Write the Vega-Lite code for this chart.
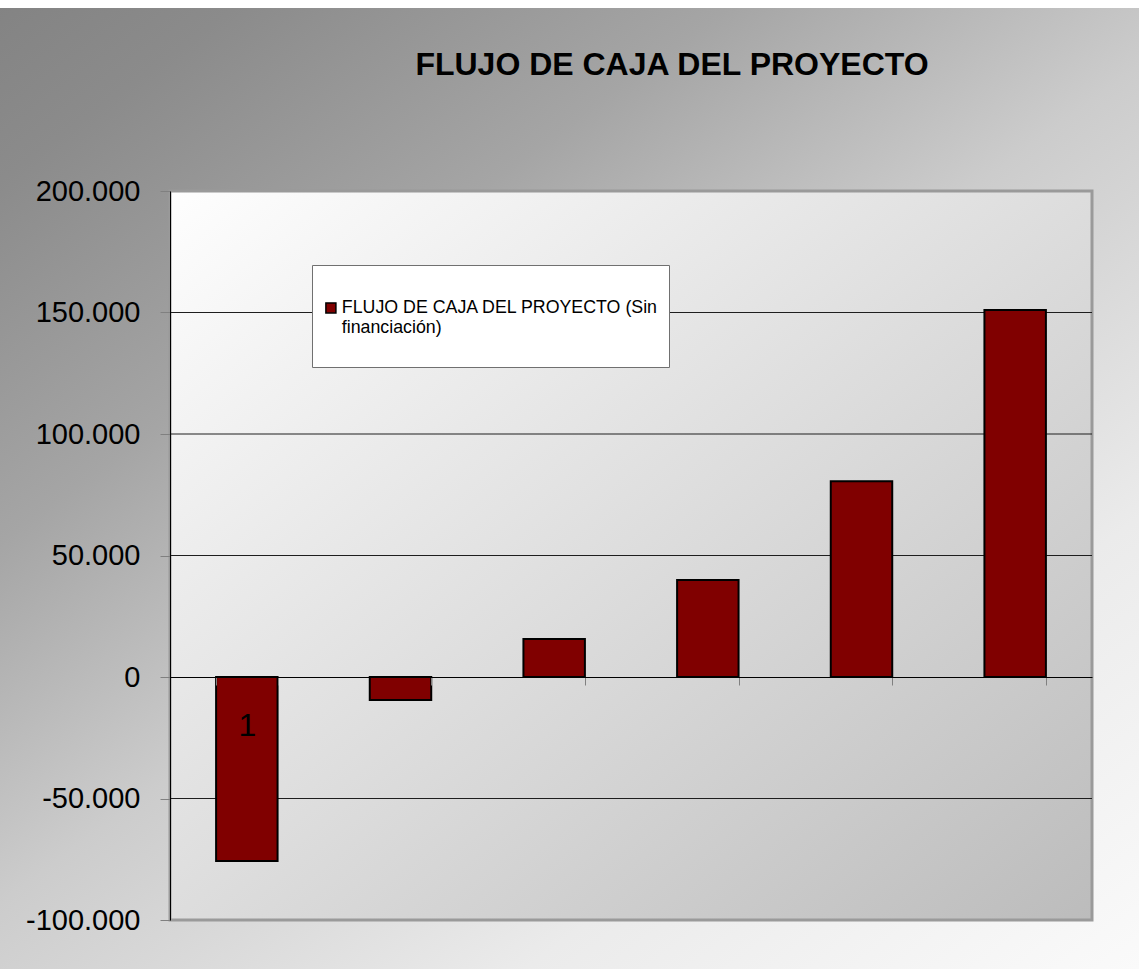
{
  "$schema": "https://vega.github.io/schema/vega-lite/v6.json",
  "width": 922,
  "height": 729,
  "autosize": {"type": "none"},
  "padding": {"left": 170, "top": 191, "right": 47, "bottom": 49},
  "background": "white",
  "title": {
    "text": "FLUJO DE CAJA DEL PROYECTO",
    "font": "Liberation Sans",
    "fontSize": 32,
    "fontWeight": "bold",
    "color": "black",
    "anchor": "middle",
    "frame": "group",
    "dx": 41,
    "baseline": "alphabetic",
    "offset": 70
  },
  "datasets": {
    "fondo": [{"ymin": -100000, "ymax": 200000}],
    "rejilla": [{"v": -50000}, {"v": 50000}, {"v": 100000}, {"v": 150000}],
    "flujo": [
      {"periodo": 1, "valor": -75700, "serie": "FLUJO DE CAJA DEL PROYECTO (Sin financiación)"},
      {"periodo": 2, "valor": -9500, "serie": "FLUJO DE CAJA DEL PROYECTO (Sin financiación)"},
      {"periodo": 3, "valor": 15600, "serie": "FLUJO DE CAJA DEL PROYECTO (Sin financiación)"},
      {"periodo": 4, "valor": 39900, "serie": "FLUJO DE CAJA DEL PROYECTO (Sin financiación)"},
      {"periodo": 5, "valor": 80600, "serie": "FLUJO DE CAJA DEL PROYECTO (Sin financiación)"},
      {"periodo": 6, "valor": 151000, "serie": "FLUJO DE CAJA DEL PROYECTO (Sin financiación)"}
    ]
  },
  "layer": [
    {
      "data": {"name": "fondo"},
      "mark": {
        "type": "rect",
        "fill": {
          "gradient": "linear", "x1": 0, "y1": 0, "x2": 1, "y2": 1,
          "stops": [
            {"offset": 0, "color": "#fefefe"},
            {"offset": 0.5, "color": "#dddddd"},
            {"offset": 1, "color": "#bcbcbc"}
          ]
        },
        "stroke": "#9a9a9a",
        "strokeWidth": 3
      },
      "encoding": {
        "y": {"field": "ymin", "type": "quantitative", "scale": {"domain": [-100000, 200000], "nice": false, "zero": false}},
        "y2": {"field": "ymax"}
      }
    },
    {
      "data": {"name": "rejilla"},
      "mark": {"type": "rule", "color": "#1e1e1e", "strokeWidth": 1},
      "encoding": {
        "y": {"field": "v", "type": "quantitative"}
      }
    },
    {
      "data": {"name": "flujo"},
      "mark": {"type": "bar", "stroke": "black", "strokeWidth": 2, "opacity": 1},
      "encoding": {
        "x": {
          "field": "periodo",
          "type": "ordinal",
          "scale": {"paddingInner": 0.6, "paddingOuter": 0.3},
          "axis": {
            "orient": "bottom",
            "offset": -243,
            "title": null,
            "domainColor": "black",
            "domainWidth": 1,
            "tickColor": "#808080",
            "tickSize": 8,
            "tickBand": "extent",
            "labelExpr": "datum.label == '1' ? '1' : ''",
            "labelFont": "Liberation Sans",
            "labelFontSize": 32,
            "labelColor": "black",
            "labelPadding": 25,
            "labelAngle": 0,
            "zindex": 1
          }
        },
        "y": {
          "field": "valor",
          "type": "quantitative",
          "axis": {
            "values": [-100000, -50000, 0, 50000, 100000, 150000, 200000],
            "format": ",d",
            "title": null,
            "grid": false,
            "domainColor": "black",
            "domainWidth": 1,
            "tickColor": "#808080",
            "tickSize": 10,
            "labelFont": "Liberation Sans",
            "labelFontSize": 29,
            "labelColor": "black",
            "labelPadding": 20,
            "zindex": 1
          }
        },
        "color": {
          "field": "serie",
          "type": "nominal",
          "scale": {"range": ["#800000"]},
          "legend": {
            "orient": "none",
            "legendX": 142,
            "legendY": 74,
            "title": " ",
            "titleFontSize": 12,
            "titlePadding": 12,
            "fillColor": "white",
            "strokeColor": "#707070",
            "padding": 10,
            "labelFont": "Liberation Sans",
            "labelFontSize": 17.8,
            "labelColor": "black",
            "labelLimit": 500,
            "labelOffset": 2,
            "symbolType": "square",
            "symbolSize": 100,
            "symbolStrokeColor": "black",
            "symbolStrokeWidth": 1.5,
            "symbolOpacity": 1,
            "labelExpr": "['FLUJO DE CAJA DEL PROYECTO (Sin', 'financiación)', '']"
          }
        }
      }
    }
  ],
  "config": {
    "locale": {
      "number": {"decimal": ",", "thousands": ".", "grouping": [3], "currency": ["", " €"], "minus": "-"}
    },
    "view": {
      "fill": null,
      "strokeWidth": 366,
      "stroke": {
        "gradient": "linear", "x1": -0.184, "y1": -0.262, "x2": 1.051, "y2": 1.067,
        "stops": [
          {"offset": 0, "color": "#838383"},
          {"offset": 0.1, "color": "#8b8b8b"},
          {"offset": 0.3, "color": "#a5a5a5"},
          {"offset": 0.5, "color": "#cccccc"},
          {"offset": 0.75, "color": "#ebebeb"},
          {"offset": 1, "color": "#fafafa"}
        ]
      }
    }
  }
}
